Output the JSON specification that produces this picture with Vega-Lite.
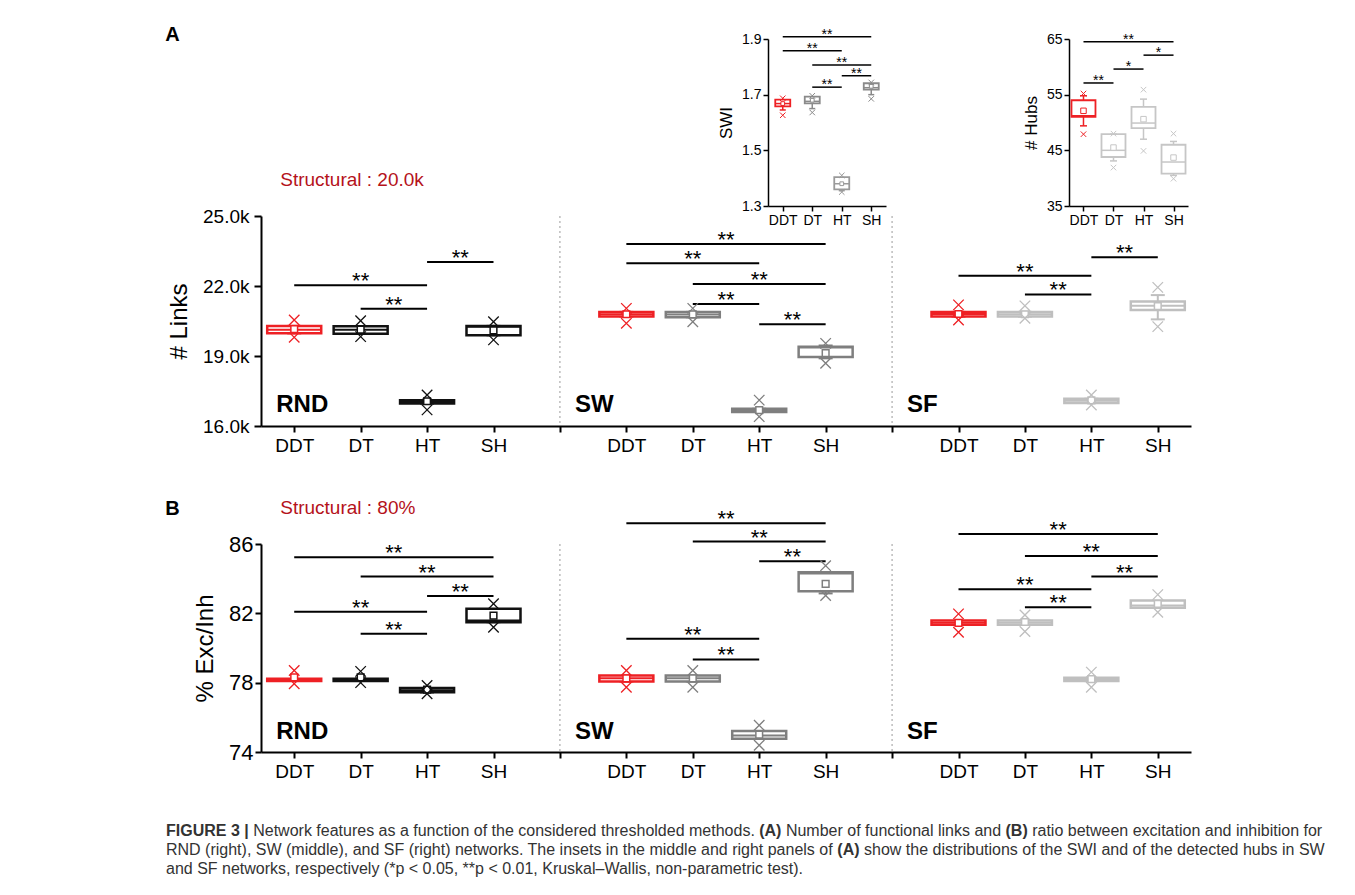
{
"$schema": "https://vega.github.io/schema/vega-lite/v6.json",
"padding": {"left": 165, "top": 25, "right": 0, "bottom": 0},
"background": "#ffffff",
"columns": 4,
"align": "each",
"bounds": "flush",
"spacing": {"row": 10, "column": 0},
"resolve": {"scale": {"color": "independent", "stroke": "independent"}},
"config": {
  "view": {"stroke": null},
  "font": "Liberation Sans",
  "axis": {"domainColor": "#000000", "domainWidth": 2, "tickColor": "#000000", "tickWidth": 2, "labelColor": "#000000", "labelFont": "Liberation Sans", "titleFont": "Liberation Sans", "titleFontWeight": "normal", "titleColor": "#000000", "grid": false}
},
"datasets": {
  "seps": [{"key": "s1"}, {"key": "s2"}],
  "boxA": [
    {"key": "RND-DDT", "q1": 19970, "q3": 20290, "med": 20130, "mean": 20150, "lo": 19970, "hi": 20290, "mn": 19800, "mx": 20540},
    {"key": "RND-DT", "q1": 19950, "q3": 20280, "med": 20130, "mean": 20130, "lo": 19950, "hi": 20280, "mn": 19830, "mx": 20510},
    {"key": "RND-HT", "q1": 16960, "q3": 17100, "med": 17030, "mean": 17060, "lo": 16960, "hi": 17100, "mn": 16690, "mx": 17330},
    {"key": "RND-SH", "q1": 19890, "q3": 20290, "med": 20250, "mean": 20100, "lo": 19890, "hi": 20290, "mn": 19690, "mx": 20470},
    {"key": "SW-DDT", "q1": 20690, "q3": 20890, "med": 20790, "mean": 20790, "lo": 20690, "hi": 20890, "mn": 20400, "mx": 21040},
    {"key": "SW-DT", "q1": 20660, "q3": 20890, "med": 20780, "mean": 20780, "lo": 20660, "hi": 20890, "mn": 20470, "mx": 21040},
    {"key": "SW-HT", "q1": 16600, "q3": 16740, "med": 16660, "mean": 16680, "lo": 16600, "hi": 16740, "mn": 16400, "mx": 17110},
    {"key": "SW-SH", "q1": 18960, "q3": 19400, "med": 19360, "mean": 19120, "lo": 18900, "hi": 19450, "mn": 18690, "mx": 19540},
    {"key": "SF-DDT", "q1": 20690, "q3": 20890, "med": 20800, "mean": 20800, "lo": 20690, "hi": 20890, "mn": 20540, "mx": 21190},
    {"key": "SF-DT", "q1": 20690, "q3": 20890, "med": 20790, "mean": 20790, "lo": 20690, "hi": 20890, "mn": 20620, "mx": 21150},
    {"key": "SF-HT", "q1": 16990, "q3": 17170, "med": 17080, "mean": 17100, "lo": 16990, "hi": 17170, "mn": 16900, "mx": 17330},
    {"key": "SF-SH", "q1": 20970, "q3": 21340, "med": 21150, "mean": 21140, "lo": 20570, "hi": 21610, "mn": 20260, "mx": 21940}
  ],
  "sigA": [
    {"from": "RND-DDT", "to": "RND-HT", "mid": "RND-DT", "y": 22030, "label": "**"},
    {"from": "RND-DT", "to": "RND-HT", "mid": "RND-m2", "y": 21030, "label": "**"},
    {"from": "RND-HT", "to": "RND-SH", "mid": "RND-m3", "y": 23030, "label": "**"},
    {"from": "SW-DDT", "to": "SW-SH", "mid": "SW-m2", "y": 23800, "label": "**"},
    {"from": "SW-DDT", "to": "SW-HT", "mid": "SW-DT", "y": 22970, "label": "**"},
    {"from": "SW-DT", "to": "SW-SH", "mid": "SW-HT", "y": 22090, "label": "**"},
    {"from": "SW-DT", "to": "SW-HT", "mid": "SW-m2", "y": 21230, "label": "**"},
    {"from": "SW-HT", "to": "SW-SH", "mid": "SW-m3", "y": 20360, "label": "**"},
    {"from": "SF-HT", "to": "SF-SH", "mid": "SF-m3", "y": 23230, "label": "**"},
    {"from": "SF-DDT", "to": "SF-HT", "mid": "SF-DT", "y": 22440, "label": "**"},
    {"from": "SF-DT", "to": "SF-HT", "mid": "SF-m2", "y": 21640, "label": "**"}
  ],
  "boxB": [
    {"key": "RND-DDT", "q1": 78.10, "q3": 78.22, "med": 78.16, "mean": 78.30, "lo": 78.10, "hi": 78.22, "mn": 77.94, "mx": 78.70},
    {"key": "RND-DT", "q1": 78.10, "q3": 78.22, "med": 78.16, "mean": 78.30, "lo": 78.10, "hi": 78.22, "mn": 78.00, "mx": 78.65},
    {"key": "RND-HT", "q1": 77.44, "q3": 77.69, "med": 77.56, "mean": 77.60, "lo": 77.44, "hi": 77.69, "mn": 77.36, "mx": 77.84},
    {"key": "RND-SH", "q1": 81.49, "q3": 82.26, "med": 81.58, "mean": 81.87, "lo": 81.49, "hi": 82.26, "mn": 81.20, "mx": 82.55},
    {"key": "SW-DDT", "q1": 78.07, "q3": 78.42, "med": 78.25, "mean": 78.25, "lo": 78.07, "hi": 78.42, "mn": 77.74, "mx": 78.70},
    {"key": "SW-DT", "q1": 78.07, "q3": 78.42, "med": 78.25, "mean": 78.25, "lo": 78.07, "hi": 78.42, "mn": 77.74, "mx": 78.70},
    {"key": "SW-HT", "q1": 74.77, "q3": 75.21, "med": 74.95, "mean": 75.00, "lo": 74.77, "hi": 75.21, "mn": 74.39, "mx": 75.54},
    {"key": "SW-SH", "q1": 83.27, "q3": 84.37, "med": 84.30, "mean": 83.70, "lo": 83.15, "hi": 84.37, "mn": 83.03, "mx": 84.75},
    {"key": "SF-DDT", "q1": 81.34, "q3": 81.59, "med": 81.45, "mean": 81.45, "lo": 81.34, "hi": 81.59, "mn": 80.91, "mx": 81.97},
    {"key": "SF-DT", "q1": 81.34, "q3": 81.59, "med": 81.45, "mean": 81.50, "lo": 81.34, "hi": 81.59, "mn": 80.95, "mx": 81.90},
    {"key": "SF-HT", "q1": 78.09, "q3": 78.29, "med": 78.20, "mean": 78.20, "lo": 78.09, "hi": 78.29, "mn": 77.74, "mx": 78.61},
    {"key": "SF-SH", "q1": 82.32, "q3": 82.74, "med": 82.45, "mean": 82.55, "lo": 82.32, "hi": 82.74, "mn": 82.06, "mx": 83.08}
  ],
  "sigB": [
    {"from": "RND-DDT", "to": "RND-SH", "mid": "RND-m2", "y": 85.23, "label": "**"},
    {"from": "RND-DT", "to": "RND-SH", "mid": "RND-HT", "y": 84.12, "label": "**"},
    {"from": "RND-HT", "to": "RND-SH", "mid": "RND-m3", "y": 83.00, "label": "**"},
    {"from": "RND-DDT", "to": "RND-HT", "mid": "RND-DT", "y": 82.09, "label": "**"},
    {"from": "RND-DT", "to": "RND-HT", "mid": "RND-m2", "y": 80.82, "label": "**"},
    {"from": "SW-DDT", "to": "SW-SH", "mid": "SW-m2", "y": 87.19, "label": "**"},
    {"from": "SW-DT", "to": "SW-SH", "mid": "SW-HT", "y": 86.14, "label": "**"},
    {"from": "SW-HT", "to": "SW-SH", "mid": "SW-m3", "y": 85.00, "label": "**"},
    {"from": "SW-DDT", "to": "SW-HT", "mid": "SW-DT", "y": 80.53, "label": "**"},
    {"from": "SW-DT", "to": "SW-HT", "mid": "SW-m2", "y": 79.34, "label": "**"},
    {"from": "SF-DDT", "to": "SF-SH", "mid": "SF-m2", "y": 86.58, "label": "**"},
    {"from": "SF-DT", "to": "SF-SH", "mid": "SF-HT", "y": 85.31, "label": "**"},
    {"from": "SF-HT", "to": "SF-SH", "mid": "SF-m3", "y": 84.12, "label": "**"},
    {"from": "SF-DDT", "to": "SF-HT", "mid": "SF-DT", "y": 83.39, "label": "**"},
    {"from": "SF-DT", "to": "SF-HT", "mid": "SF-m2", "y": 82.35, "label": "**"}
  ],
  "boxSWI": [
    {"key": "DDT", "q1": 1.658, "q3": 1.682, "med": 1.668, "mean": 1.668, "lo": 1.645, "hi": 1.685, "mn": 1.626, "mx": 1.687},
    {"key": "DT", "q1": 1.669, "q3": 1.693, "med": 1.676, "mean": 1.680, "lo": 1.650, "hi": 1.696, "mn": 1.636, "mx": 1.696},
    {"key": "HT", "q1": 1.360, "q3": 1.404, "med": 1.380, "mean": 1.380, "lo": 1.355, "hi": 1.404, "mn": 1.350, "mx": 1.410},
    {"key": "SH", "q1": 1.718, "q3": 1.741, "med": 1.725, "mean": 1.730, "lo": 1.700, "hi": 1.741, "mn": 1.685, "mx": 1.744}
  ],
  "sigSWI": [
    {"from": "DDT", "to": "SH", "mid": "m2", "y": 1.908, "label": "**"},
    {"from": "DDT", "to": "HT", "mid": "DT", "y": 1.858, "label": "**"},
    {"from": "DT", "to": "SH", "mid": "HT", "y": 1.807, "label": "**"},
    {"from": "HT", "to": "SH", "mid": "m3", "y": 1.768, "label": "**"},
    {"from": "DT", "to": "HT", "mid": "m2", "y": 1.727, "label": "**"}
  ],
  "boxHub": [
    {"key": "DDT", "q1": 51.0, "q3": 54.0, "med": 51.2, "mean": 52.1, "lo": 49.4, "hi": 54.8, "mn": 47.9, "mx": 55.2},
    {"key": "DT", "q1": 43.8, "q3": 47.9, "med": 45.0, "mean": 45.5, "lo": 43.1, "hi": 47.9, "mn": 41.9, "mx": 48.0},
    {"key": "HT", "q1": 49.0, "q3": 52.8, "med": 49.9, "mean": 50.6, "lo": 47.0, "hi": 54.2, "mn": 44.9, "mx": 55.9},
    {"key": "SH", "q1": 40.8, "q3": 46.0, "med": 42.9, "mean": 43.7, "lo": 40.5, "hi": 46.6, "mn": 39.9, "mx": 48.0}
  ],
  "sigHub": [
    {"from": "DDT", "to": "SH", "mid": "m2", "y": 64.5, "label": "**"},
    {"from": "HT", "to": "SH", "mid": "m3", "y": 62.1, "label": "*"},
    {"from": "DT", "to": "HT", "mid": "m2", "y": 59.6, "label": "*"},
    {"from": "DDT", "to": "DT", "mid": "m1", "y": 57.1, "label": "**"}
  ],
  "caption": [
    {"id": "L1S1", "line": 1, "text": "FIGURE 3 |"},
    {"id": "L1S2", "line": 1, "text": "Network features as a function of the considered thresholded methods."},
    {"id": "L1S3", "line": 1, "text": "(A)"},
    {"id": "L1S4", "line": 1, "text": "Number of functional links and"},
    {"id": "L1S5", "line": 1, "text": "(B)"},
    {"id": "L1S6", "line": 1, "text": "ratio between excitation and inhibition for"},
    {"id": "L2S1", "line": 2, "text": "RND (right), SW (middle), and SF (right) networks. The insets in the middle and right panels of"},
    {"id": "L2S2", "line": 2, "text": "(A)"},
    {"id": "L2S3", "line": 2, "text": "show the distributions of the SWI and of the detected hubs in SW"},
    {"id": "L3S1", "line": 3, "text": "and SF networks, respectively (*p < 0.05, **p < 0.01, Kruskal–Wallis, non-parametric test)."}
  ]
},
"concat": [
  {"width": 507, "height": 167, "data": {"values": [{}]}, "mark": {"type": "text", "text": ""}},
  {
    "width": 118, "height": 167,
    "layer": [
      {"data": {"name": "sigSWI"}, "mark": {"type": "rule", "color": "#000000", "strokeWidth": 1.5},
       "encoding": {
         "x": {"field": "from", "type": "nominal", "title": null, "scale": {"type": "point", "domain": ["DDT","m1","DT","m2","HT","m3","SH"], "padding": 1.245}, "axis": {"values": ["DDT","DT","HT","SH"], "labelAngle": 0, "labelFontSize": 14, "tickSize": 5, "tickWidth": 1.5, "domainWidth": 1.5, "labelPadding": 2}},
         "x2": {"field": "to"},
         "y": {"field": "y", "type": "quantitative", "title": "SWI", "scale": {"domain": [1.3, 1.9], "nice": false, "zero": false}, "axis": {"values": [1.3, 1.5, 1.7, 1.9], "format": ".1f", "labelFontSize": 14, "tickSize": 5, "tickWidth": 1.5, "domainWidth": 1.5, "labelPadding": 2, "titleFontSize": 17, "titlePadding": 6}}}},
      {"data": {"name": "sigSWI"}, "mark": {"type": "text", "fontSize": 14, "baseline": "alphabetic", "dy": 2, "color": "#000000"},
       "encoding": {
         "x": {"field": "mid", "type": "nominal", "title": null, "scale": {"type": "point", "domain": ["DDT","m1","DT","m2","HT","m3","SH"], "padding": 1.245}},
         "y": {"field": "y", "type": "quantitative", "title": "SWI", "scale": {"domain": [1.3, 1.9], "nice": false, "zero": false}},
         "text": {"field": "label"}}},
      {"data": {"name": "boxSWI"}, "mark": {"type": "rule", "strokeWidth": 1.5},
       "encoding": {
         "x": {"field": "key", "type": "nominal", "title": null, "scale": {"type": "point", "domain": ["DDT","m1","DT","m2","HT","m3","SH"], "padding": 1.245}},
         "y": {"field": "lo", "type": "quantitative", "title": "SWI", "scale": {"domain": [1.3, 1.9], "nice": false, "zero": false}},
         "y2": {"field": "hi"},
         "color": {"field": "key", "type": "nominal", "scale": {"domain": ["DDT","DT","HT","SH"], "range": ["#ee2024","#8a8a8a","#9a9a9a","#8a8a8a"]}, "legend": null}}},
      {"data": {"name": "boxSWI"}, "mark": {"type": "tick", "size": 6, "thickness": 1.5, "opacity": 1},
       "encoding": {
         "x": {"field": "key", "type": "nominal", "title": null, "scale": {"type": "point", "domain": ["DDT","m1","DT","m2","HT","m3","SH"], "padding": 1.245}},
         "y": {"field": "lo", "type": "quantitative", "title": "SWI", "scale": {"domain": [1.3, 1.9], "nice": false, "zero": false}},
         "color": {"field": "key", "type": "nominal", "scale": {"domain": ["DDT","DT","HT","SH"], "range": ["#ee2024","#8a8a8a","#9a9a9a","#8a8a8a"]}, "legend": null}}},
      {"data": {"name": "boxSWI"}, "mark": {"type": "bar", "size": 15, "fill": "#ffffff", "strokeWidth": 1.8},
       "encoding": {
         "x": {"field": "key", "type": "nominal", "title": null, "scale": {"type": "point", "domain": ["DDT","m1","DT","m2","HT","m3","SH"], "padding": 1.245}},
         "y": {"field": "q1", "type": "quantitative", "title": "SWI", "scale": {"domain": [1.3, 1.9], "nice": false, "zero": false}},
         "y2": {"field": "q3"},
         "stroke": {"field": "key", "type": "nominal", "scale": {"domain": ["DDT","DT","HT","SH"], "range": ["#ee2024","#8a8a8a","#9a9a9a","#8a8a8a"]}, "legend": null}}},
      {"data": {"name": "boxSWI"}, "mark": {"type": "tick", "size": 15, "thickness": 1.5, "opacity": 1},
       "encoding": {
         "x": {"field": "key", "type": "nominal", "title": null, "scale": {"type": "point", "domain": ["DDT","m1","DT","m2","HT","m3","SH"], "padding": 1.245}},
         "y": {"field": "med", "type": "quantitative", "title": "SWI", "scale": {"domain": [1.3, 1.9], "nice": false, "zero": false}},
         "color": {"field": "key", "type": "nominal", "scale": {"domain": ["DDT","DT","HT","SH"], "range": ["#ee2024","#8a8a8a","#9a9a9a","#8a8a8a"]}, "legend": null}}},
      {"data": {"name": "boxSWI"}, "mark": {"type": "point", "shape": "square", "filled": true, "fill": "#ffffff", "size": 14, "strokeWidth": 1, "opacity": 1},
       "encoding": {
         "x": {"field": "key", "type": "nominal", "title": null, "scale": {"type": "point", "domain": ["DDT","m1","DT","m2","HT","m3","SH"], "padding": 1.245}},
         "y": {"field": "mean", "type": "quantitative", "title": "SWI", "scale": {"domain": [1.3, 1.9], "nice": false, "zero": false}},
         "stroke": {"field": "key", "type": "nominal", "scale": {"domain": ["DDT","DT","HT","SH"], "range": ["#ee2024","#8a8a8a","#9a9a9a","#8a8a8a"]}, "legend": null}}},
      {"data": {"name": "boxSWI"}, "mark": {"type": "point", "shape": "M-1,-1L1,1M-1,1L1,-1", "filled": false, "size": 30, "strokeWidth": 1, "opacity": 1},
       "encoding": {
         "x": {"field": "key", "type": "nominal", "title": null, "scale": {"type": "point", "domain": ["DDT","m1","DT","m2","HT","m3","SH"], "padding": 1.245}},
         "y": {"field": "mn", "type": "quantitative", "title": "SWI", "scale": {"domain": [1.3, 1.9], "nice": false, "zero": false}},
         "stroke": {"field": "key", "type": "nominal", "scale": {"domain": ["DDT","DT","HT","SH"], "range": ["#ee2024","#8a8a8a","#9a9a9a","#8a8a8a"]}, "legend": null}}},
      {"data": {"name": "boxSWI"}, "mark": {"type": "point", "shape": "M-1,-1L1,1M-1,1L1,-1", "filled": false, "size": 30, "strokeWidth": 1, "opacity": 1},
       "encoding": {
         "x": {"field": "key", "type": "nominal", "title": null, "scale": {"type": "point", "domain": ["DDT","m1","DT","m2","HT","m3","SH"], "padding": 1.245}},
         "y": {"field": "mx", "type": "quantitative", "title": "SWI", "scale": {"domain": [1.3, 1.9], "nice": false, "zero": false}},
         "stroke": {"field": "key", "type": "nominal", "scale": {"domain": ["DDT","DT","HT","SH"], "range": ["#ee2024","#8a8a8a","#9a9a9a","#8a8a8a"]}, "legend": null}}}
    ]
  },
  {"width": 183, "height": 167, "data": {"values": [{}]}, "mark": {"type": "text", "text": ""}},
  {
    "width": 119, "height": 167,
    "layer": [
      {"data": {"name": "sigHub"}, "mark": {"type": "rule", "color": "#000000", "strokeWidth": 1.5},
       "encoding": {
         "x": {"field": "from", "type": "nominal", "title": null, "scale": {"type": "point", "domain": ["DDT","m1","DT","m2","HT","m3","SH"], "padding": 0.965}, "axis": {"values": ["DDT","DT","HT","SH"], "labelAngle": 0, "labelFontSize": 14, "tickSize": 5, "tickWidth": 1.5, "domainWidth": 1.5, "labelPadding": 2}},
         "x2": {"field": "to"},
         "y": {"field": "y", "type": "quantitative", "title": "# Hubs", "scale": {"domain": [35, 65], "nice": false, "zero": false}, "axis": {"values": [35, 45, 55, 65], "format": "d", "labelFontSize": 14, "tickSize": 5, "tickWidth": 1.5, "domainWidth": 1.5, "labelPadding": 2, "titleFontSize": 17, "titlePadding": 6}}}},
      {"data": {"name": "sigHub"}, "mark": {"type": "text", "fontSize": 14, "baseline": "alphabetic", "dy": 2, "color": "#000000"},
       "encoding": {
         "x": {"field": "mid", "type": "nominal", "title": null, "scale": {"type": "point", "domain": ["DDT","m1","DT","m2","HT","m3","SH"], "padding": 0.965}},
         "y": {"field": "y", "type": "quantitative", "title": "# Hubs", "scale": {"domain": [35, 65], "nice": false, "zero": false}},
         "text": {"field": "label"}}},
      {"data": {"name": "boxHub"}, "mark": {"type": "rule", "strokeWidth": 1.5},
       "encoding": {
         "x": {"field": "key", "type": "nominal", "title": null, "scale": {"type": "point", "domain": ["DDT","m1","DT","m2","HT","m3","SH"], "padding": 0.965}},
         "y": {"field": "lo", "type": "quantitative", "title": "# Hubs", "scale": {"domain": [35, 65], "nice": false, "zero": false}},
         "y2": {"field": "hi"},
         "color": {"field": "key", "type": "nominal", "scale": {"domain": ["DDT","DT","HT","SH"], "range": ["#ee2024","#c6c6c6","#c6c6c6","#c6c6c6"]}, "legend": null}}},
      {"data": {"name": "boxHub"}, "mark": {"type": "tick", "size": 7, "thickness": 1.5, "opacity": 1},
       "encoding": {
         "x": {"field": "key", "type": "nominal", "title": null, "scale": {"type": "point", "domain": ["DDT","m1","DT","m2","HT","m3","SH"], "padding": 0.965}},
         "y": {"field": "lo", "type": "quantitative", "title": "# Hubs", "scale": {"domain": [35, 65], "nice": false, "zero": false}},
         "color": {"field": "key", "type": "nominal", "scale": {"domain": ["DDT","DT","HT","SH"], "range": ["#ee2024","#c6c6c6","#c6c6c6","#c6c6c6"]}, "legend": null}}},
      {"data": {"name": "boxHub"}, "mark": {"type": "tick", "size": 7, "thickness": 1.5, "opacity": 1},
       "encoding": {
         "x": {"field": "key", "type": "nominal", "title": null, "scale": {"type": "point", "domain": ["DDT","m1","DT","m2","HT","m3","SH"], "padding": 0.965}},
         "y": {"field": "hi", "type": "quantitative", "title": "# Hubs", "scale": {"domain": [35, 65], "nice": false, "zero": false}},
         "color": {"field": "key", "type": "nominal", "scale": {"domain": ["DDT","DT","HT","SH"], "range": ["#ee2024","#c6c6c6","#c6c6c6","#c6c6c6"]}, "legend": null}}},
      {"data": {"name": "boxHub"}, "mark": {"type": "bar", "size": 24, "fill": "#ffffff", "strokeWidth": 1.8},
       "encoding": {
         "x": {"field": "key", "type": "nominal", "title": null, "scale": {"type": "point", "domain": ["DDT","m1","DT","m2","HT","m3","SH"], "padding": 0.965}},
         "y": {"field": "q1", "type": "quantitative", "title": "# Hubs", "scale": {"domain": [35, 65], "nice": false, "zero": false}},
         "y2": {"field": "q3"},
         "stroke": {"field": "key", "type": "nominal", "scale": {"domain": ["DDT","DT","HT","SH"], "range": ["#ee2024","#c6c6c6","#c6c6c6","#c6c6c6"]}, "legend": null}}},
      {"data": {"name": "boxHub"}, "mark": {"type": "tick", "size": 24, "thickness": 1.5, "opacity": 1},
       "encoding": {
         "x": {"field": "key", "type": "nominal", "title": null, "scale": {"type": "point", "domain": ["DDT","m1","DT","m2","HT","m3","SH"], "padding": 0.965}},
         "y": {"field": "med", "type": "quantitative", "title": "# Hubs", "scale": {"domain": [35, 65], "nice": false, "zero": false}},
         "color": {"field": "key", "type": "nominal", "scale": {"domain": ["DDT","DT","HT","SH"], "range": ["#ee2024","#c6c6c6","#c6c6c6","#c6c6c6"]}, "legend": null}}},
      {"data": {"name": "boxHub"}, "mark": {"type": "point", "shape": "square", "filled": true, "fill": "#ffffff", "size": 30, "strokeWidth": 1, "opacity": 1},
       "encoding": {
         "x": {"field": "key", "type": "nominal", "title": null, "scale": {"type": "point", "domain": ["DDT","m1","DT","m2","HT","m3","SH"], "padding": 0.965}},
         "y": {"field": "mean", "type": "quantitative", "title": "# Hubs", "scale": {"domain": [35, 65], "nice": false, "zero": false}},
         "stroke": {"field": "key", "type": "nominal", "scale": {"domain": ["DDT","DT","HT","SH"], "range": ["#ee2024","#c6c6c6","#c6c6c6","#c6c6c6"]}, "legend": null}}},
      {"data": {"name": "boxHub"}, "mark": {"type": "point", "shape": "M-1,-1L1,1M-1,1L1,-1", "filled": false, "size": 30, "strokeWidth": 1, "opacity": 1},
       "encoding": {
         "x": {"field": "key", "type": "nominal", "title": null, "scale": {"type": "point", "domain": ["DDT","m1","DT","m2","HT","m3","SH"], "padding": 0.965}},
         "y": {"field": "mn", "type": "quantitative", "title": "# Hubs", "scale": {"domain": [35, 65], "nice": false, "zero": false}},
         "stroke": {"field": "key", "type": "nominal", "scale": {"domain": ["DDT","DT","HT","SH"], "range": ["#ee2024","#c6c6c6","#c6c6c6","#c6c6c6"]}, "legend": null}}},
      {"data": {"name": "boxHub"}, "mark": {"type": "point", "shape": "M-1,-1L1,1M-1,1L1,-1", "filled": false, "size": 30, "strokeWidth": 1, "opacity": 1},
       "encoding": {
         "x": {"field": "key", "type": "nominal", "title": null, "scale": {"type": "point", "domain": ["DDT","m1","DT","m2","HT","m3","SH"], "padding": 0.965}},
         "y": {"field": "mx", "type": "quantitative", "title": "# Hubs", "scale": {"domain": [35, 65], "nice": false, "zero": false}},
         "stroke": {"field": "key", "type": "nominal", "scale": {"domain": ["DDT","DT","HT","SH"], "range": ["#ee2024","#c6c6c6","#c6c6c6","#c6c6c6"]}, "legend": null}}}
    ]
  },
  {
    "width": 507, "height": 210,
    "layer": [
      {"data": {"name": "seps"}, "mark": {"type": "rule", "color": "#9a9a9a", "strokeWidth": 1, "strokeDash": [2, 3]},
       "encoding": {"x": {"field": "key", "type": "nominal", "title": null, "scale": {"type": "point", "domain": ["RND-DDT","RND-m1","RND-DT","RND-m2","RND-HT","RND-m3","RND-SH","g1","s1","g2","SW-DDT","SW-m1","SW-DT","SW-m2","SW-HT","SW-m3","SW-SH","g3","s2","g4","SF-DDT","SF-m1","SF-DT","SF-m2","SF-HT","SF-m3","SF-SH"], "padding": 1.09, "range": [0, 930]},
         "axis": {"values": ["RND-DDT","RND-DT","RND-HT","RND-SH","s1","SW-DDT","SW-DT","SW-HT","SW-SH","s2","SF-DDT","SF-DT","SF-HT","SF-SH"], "labelExpr": "indexof(datum.value, '-') > 0 ? slice(datum.value, indexof(datum.value, '-') + 1) : ''", "labelAngle": 0, "labelFontSize": 19, "tickSize": 6, "labelPadding": 4}}}},
      {"data": {"name": "sigA"}, "mark": {"type": "rule", "color": "#000000", "strokeWidth": 2},
       "encoding": {
         "x": {"field": "from", "type": "nominal", "title": null, "scale": {"type": "point", "domain": ["RND-DDT","RND-m1","RND-DT","RND-m2","RND-HT","RND-m3","RND-SH","g1","s1","g2","SW-DDT","SW-m1","SW-DT","SW-m2","SW-HT","SW-m3","SW-SH","g3","s2","g4","SF-DDT","SF-m1","SF-DT","SF-m2","SF-HT","SF-m3","SF-SH"], "padding": 1.09, "range": [0, 930]}},
         "x2": {"field": "to"},
         "y": {"field": "y", "type": "quantitative", "title": "# Links", "scale": {"domain": [16000, 25000], "nice": false, "zero": false},
           "axis": {"values": [16000, 19000, 22000, 25000], "labelExpr": "format(datum.value / 1000, '.1f') + 'k'", "labelFontSize": 19, "tickSize": 7, "labelPadding": 5, "titleFontSize": 24, "titlePadding": 11}}}},
      {"data": {"name": "sigA"}, "mark": {"type": "text", "fontSize": 22, "baseline": "alphabetic", "dy": 3, "color": "#000000"},
       "encoding": {
         "x": {"field": "mid", "type": "nominal", "title": null, "scale": {"type": "point", "domain": ["RND-DDT","RND-m1","RND-DT","RND-m2","RND-HT","RND-m3","RND-SH","g1","s1","g2","SW-DDT","SW-m1","SW-DT","SW-m2","SW-HT","SW-m3","SW-SH","g3","s2","g4","SF-DDT","SF-m1","SF-DT","SF-m2","SF-HT","SF-m3","SF-SH"], "padding": 1.09, "range": [0, 930]}},
         "y": {"field": "y", "type": "quantitative", "title": "# Links", "scale": {"domain": [16000, 25000], "nice": false, "zero": false}},
         "text": {"field": "label"}}},
      {"data": {"name": "boxA"}, "mark": {"type": "rule", "strokeWidth": 2},
       "encoding": {
         "x": {"field": "key", "type": "nominal", "title": null, "scale": {"type": "point", "domain": ["RND-DDT","RND-m1","RND-DT","RND-m2","RND-HT","RND-m3","RND-SH","g1","s1","g2","SW-DDT","SW-m1","SW-DT","SW-m2","SW-HT","SW-m3","SW-SH","g3","s2","g4","SF-DDT","SF-m1","SF-DT","SF-m2","SF-HT","SF-m3","SF-SH"], "padding": 1.09, "range": [0, 930]}},
         "y": {"field": "lo", "type": "quantitative", "title": "# Links", "scale": {"domain": [16000, 25000], "nice": false, "zero": false}},
         "y2": {"field": "hi"},
         "color": {"field": "key", "type": "nominal", "scale": {"domain": ["RND-DDT","RND-DT","RND-HT","RND-SH","SW-DDT","SW-DT","SW-HT","SW-SH","SF-DDT","SF-DT","SF-HT","SF-SH"], "range": ["#ee2024","#111111","#111111","#111111","#ee2024","#7f7f7f","#7f7f7f","#7f7f7f","#ee2024","#bfbfbf","#bfbfbf","#bfbfbf"]}, "legend": null}}},
      {"data": {"name": "boxA"}, "mark": {"type": "tick", "size": 14, "thickness": 2, "opacity": 1},
       "encoding": {
         "x": {"field": "key", "type": "nominal", "title": null, "scale": {"type": "point", "domain": ["RND-DDT","RND-m1","RND-DT","RND-m2","RND-HT","RND-m3","RND-SH","g1","s1","g2","SW-DDT","SW-m1","SW-DT","SW-m2","SW-HT","SW-m3","SW-SH","g3","s2","g4","SF-DDT","SF-m1","SF-DT","SF-m2","SF-HT","SF-m3","SF-SH"], "padding": 1.09, "range": [0, 930]}},
         "y": {"field": "lo", "type": "quantitative", "title": "# Links", "scale": {"domain": [16000, 25000], "nice": false, "zero": false}},
         "color": {"field": "key", "type": "nominal", "scale": {"domain": ["RND-DDT","RND-DT","RND-HT","RND-SH","SW-DDT","SW-DT","SW-HT","SW-SH","SF-DDT","SF-DT","SF-HT","SF-SH"], "range": ["#ee2024","#111111","#111111","#111111","#ee2024","#7f7f7f","#7f7f7f","#7f7f7f","#ee2024","#bfbfbf","#bfbfbf","#bfbfbf"]}, "legend": null}}},
      {"data": {"name": "boxA"}, "mark": {"type": "tick", "size": 14, "thickness": 2, "opacity": 1},
       "encoding": {
         "x": {"field": "key", "type": "nominal", "title": null, "scale": {"type": "point", "domain": ["RND-DDT","RND-m1","RND-DT","RND-m2","RND-HT","RND-m3","RND-SH","g1","s1","g2","SW-DDT","SW-m1","SW-DT","SW-m2","SW-HT","SW-m3","SW-SH","g3","s2","g4","SF-DDT","SF-m1","SF-DT","SF-m2","SF-HT","SF-m3","SF-SH"], "padding": 1.09, "range": [0, 930]}},
         "y": {"field": "hi", "type": "quantitative", "title": "# Links", "scale": {"domain": [16000, 25000], "nice": false, "zero": false}},
         "color": {"field": "key", "type": "nominal", "scale": {"domain": ["RND-DDT","RND-DT","RND-HT","RND-SH","SW-DDT","SW-DT","SW-HT","SW-SH","SF-DDT","SF-DT","SF-HT","SF-SH"], "range": ["#ee2024","#111111","#111111","#111111","#ee2024","#7f7f7f","#7f7f7f","#7f7f7f","#ee2024","#bfbfbf","#bfbfbf","#bfbfbf"]}, "legend": null}}},
      {"data": {"name": "boxA"}, "mark": {"type": "bar", "size": 54, "fill": "#ffffff", "strokeWidth": 2.5},
       "encoding": {
         "x": {"field": "key", "type": "nominal", "title": null, "scale": {"type": "point", "domain": ["RND-DDT","RND-m1","RND-DT","RND-m2","RND-HT","RND-m3","RND-SH","g1","s1","g2","SW-DDT","SW-m1","SW-DT","SW-m2","SW-HT","SW-m3","SW-SH","g3","s2","g4","SF-DDT","SF-m1","SF-DT","SF-m2","SF-HT","SF-m3","SF-SH"], "padding": 1.09, "range": [0, 930]}},
         "y": {"field": "q1", "type": "quantitative", "title": "# Links", "scale": {"domain": [16000, 25000], "nice": false, "zero": false}},
         "y2": {"field": "q3"},
         "stroke": {"field": "key", "type": "nominal", "scale": {"domain": ["RND-DDT","RND-DT","RND-HT","RND-SH","SW-DDT","SW-DT","SW-HT","SW-SH","SF-DDT","SF-DT","SF-HT","SF-SH"], "range": ["#ee2024","#111111","#111111","#111111","#ee2024","#7f7f7f","#7f7f7f","#7f7f7f","#ee2024","#bfbfbf","#bfbfbf","#bfbfbf"]}, "legend": null}}},
      {"data": {"name": "boxA"}, "mark": {"type": "tick", "size": 54, "thickness": 2, "opacity": 1},
       "encoding": {
         "x": {"field": "key", "type": "nominal", "title": null, "scale": {"type": "point", "domain": ["RND-DDT","RND-m1","RND-DT","RND-m2","RND-HT","RND-m3","RND-SH","g1","s1","g2","SW-DDT","SW-m1","SW-DT","SW-m2","SW-HT","SW-m3","SW-SH","g3","s2","g4","SF-DDT","SF-m1","SF-DT","SF-m2","SF-HT","SF-m3","SF-SH"], "padding": 1.09, "range": [0, 930]}},
         "y": {"field": "med", "type": "quantitative", "title": "# Links", "scale": {"domain": [16000, 25000], "nice": false, "zero": false}},
         "color": {"field": "key", "type": "nominal", "scale": {"domain": ["RND-DDT","RND-DT","RND-HT","RND-SH","SW-DDT","SW-DT","SW-HT","SW-SH","SF-DDT","SF-DT","SF-HT","SF-SH"], "range": ["#ee2024","#111111","#111111","#111111","#ee2024","#7f7f7f","#7f7f7f","#7f7f7f","#ee2024","#bfbfbf","#bfbfbf","#bfbfbf"]}, "legend": null}}},
      {"data": {"name": "boxA"}, "mark": {"type": "point", "shape": "square", "filled": true, "fill": "#ffffff", "size": 45, "strokeWidth": 1.5, "opacity": 1},
       "encoding": {
         "x": {"field": "key", "type": "nominal", "title": null, "scale": {"type": "point", "domain": ["RND-DDT","RND-m1","RND-DT","RND-m2","RND-HT","RND-m3","RND-SH","g1","s1","g2","SW-DDT","SW-m1","SW-DT","SW-m2","SW-HT","SW-m3","SW-SH","g3","s2","g4","SF-DDT","SF-m1","SF-DT","SF-m2","SF-HT","SF-m3","SF-SH"], "padding": 1.09, "range": [0, 930]}},
         "y": {"field": "mean", "type": "quantitative", "title": "# Links", "scale": {"domain": [16000, 25000], "nice": false, "zero": false}},
         "stroke": {"field": "key", "type": "nominal", "scale": {"domain": ["RND-DDT","RND-DT","RND-HT","RND-SH","SW-DDT","SW-DT","SW-HT","SW-SH","SF-DDT","SF-DT","SF-HT","SF-SH"], "range": ["#ee2024","#111111","#111111","#111111","#ee2024","#7f7f7f","#7f7f7f","#7f7f7f","#ee2024","#bfbfbf","#bfbfbf","#bfbfbf"]}, "legend": null}}},
      {"data": {"name": "boxA"}, "mark": {"type": "point", "shape": "M-1,-1L1,1M-1,1L1,-1", "filled": false, "size": 110, "strokeWidth": 1.3, "opacity": 1},
       "encoding": {
         "x": {"field": "key", "type": "nominal", "title": null, "scale": {"type": "point", "domain": ["RND-DDT","RND-m1","RND-DT","RND-m2","RND-HT","RND-m3","RND-SH","g1","s1","g2","SW-DDT","SW-m1","SW-DT","SW-m2","SW-HT","SW-m3","SW-SH","g3","s2","g4","SF-DDT","SF-m1","SF-DT","SF-m2","SF-HT","SF-m3","SF-SH"], "padding": 1.09, "range": [0, 930]}},
         "y": {"field": "mn", "type": "quantitative", "title": "# Links", "scale": {"domain": [16000, 25000], "nice": false, "zero": false}},
         "stroke": {"field": "key", "type": "nominal", "scale": {"domain": ["RND-DDT","RND-DT","RND-HT","RND-SH","SW-DDT","SW-DT","SW-HT","SW-SH","SF-DDT","SF-DT","SF-HT","SF-SH"], "range": ["#ee2024","#111111","#111111","#111111","#ee2024","#7f7f7f","#7f7f7f","#7f7f7f","#ee2024","#bfbfbf","#bfbfbf","#bfbfbf"]}, "legend": null}}},
      {"data": {"name": "boxA"}, "mark": {"type": "point", "shape": "M-1,-1L1,1M-1,1L1,-1", "filled": false, "size": 110, "strokeWidth": 1.3, "opacity": 1},
       "encoding": {
         "x": {"field": "key", "type": "nominal", "title": null, "scale": {"type": "point", "domain": ["RND-DDT","RND-m1","RND-DT","RND-m2","RND-HT","RND-m3","RND-SH","g1","s1","g2","SW-DDT","SW-m1","SW-DT","SW-m2","SW-HT","SW-m3","SW-SH","g3","s2","g4","SF-DDT","SF-m1","SF-DT","SF-m2","SF-HT","SF-m3","SF-SH"], "padding": 1.09, "range": [0, 930]}},
         "y": {"field": "mx", "type": "quantitative", "title": "# Links", "scale": {"domain": [16000, 25000], "nice": false, "zero": false}},
         "stroke": {"field": "key", "type": "nominal", "scale": {"domain": ["RND-DDT","RND-DT","RND-HT","RND-SH","SW-DDT","SW-DT","SW-HT","SW-SH","SF-DDT","SF-DT","SF-HT","SF-SH"], "range": ["#ee2024","#111111","#111111","#111111","#ee2024","#7f7f7f","#7f7f7f","#7f7f7f","#ee2024","#bfbfbf","#bfbfbf","#bfbfbf"]}, "legend": null}}},
      {"data": {"values": [{}]}, "mark": {"type": "text", "text": "RND", "fontSize": 24, "fontWeight": "bold", "align": "left", "baseline": "middle", "dx": -18, "color": "#000000"},
       "encoding": {
         "x": {"datum": "RND-DDT", "type": "nominal", "title": null, "scale": {"type": "point", "domain": ["RND-DDT","RND-m1","RND-DT","RND-m2","RND-HT","RND-m3","RND-SH","g1","s1","g2","SW-DDT","SW-m1","SW-DT","SW-m2","SW-HT","SW-m3","SW-SH","g3","s2","g4","SF-DDT","SF-m1","SF-DT","SF-m2","SF-HT","SF-m3","SF-SH"], "padding": 1.09, "range": [0, 930]}},
         "y": {"datum": 16880, "type": "quantitative", "title": "# Links", "scale": {"domain": [16000, 25000], "nice": false, "zero": false}}}},
      {"data": {"values": [{}]}, "mark": {"type": "text", "text": "SW", "fontSize": 24, "fontWeight": "bold", "align": "left", "baseline": "middle", "dx": 15, "color": "#000000"},
       "encoding": {
         "x": {"datum": "s1", "type": "nominal", "title": null, "scale": {"type": "point", "domain": ["RND-DDT","RND-m1","RND-DT","RND-m2","RND-HT","RND-m3","RND-SH","g1","s1","g2","SW-DDT","SW-m1","SW-DT","SW-m2","SW-HT","SW-m3","SW-SH","g3","s2","g4","SF-DDT","SF-m1","SF-DT","SF-m2","SF-HT","SF-m3","SF-SH"], "padding": 1.09, "range": [0, 930]}},
         "y": {"datum": 16880, "type": "quantitative", "title": "# Links", "scale": {"domain": [16000, 25000], "nice": false, "zero": false}}}},
      {"data": {"values": [{}]}, "mark": {"type": "text", "text": "SF", "fontSize": 24, "fontWeight": "bold", "align": "left", "baseline": "middle", "dx": 15, "color": "#000000"},
       "encoding": {
         "x": {"datum": "s2", "type": "nominal", "title": null, "scale": {"type": "point", "domain": ["RND-DDT","RND-m1","RND-DT","RND-m2","RND-HT","RND-m3","RND-SH","g1","s1","g2","SW-DDT","SW-m1","SW-DT","SW-m2","SW-HT","SW-m3","SW-SH","g3","s2","g4","SF-DDT","SF-m1","SF-DT","SF-m2","SF-HT","SF-m3","SF-SH"], "padding": 1.09, "range": [0, 930]}},
         "y": {"datum": 16880, "type": "quantitative", "title": "# Links", "scale": {"domain": [16000, 25000], "nice": false, "zero": false}}}},
      {"data": {"values": [{}]}, "mark": {"type": "text", "text": "Structural : 20.0k", "fontSize": 19, "align": "left", "baseline": "middle", "dx": -14, "color": "#b5121b"},
       "encoding": {
         "x": {"datum": "RND-DDT", "type": "nominal", "title": null, "scale": {"type": "point", "domain": ["RND-DDT","RND-m1","RND-DT","RND-m2","RND-HT","RND-m3","RND-SH","g1","s1","g2","SW-DDT","SW-m1","SW-DT","SW-m2","SW-HT","SW-m3","SW-SH","g3","s2","g4","SF-DDT","SF-m1","SF-DT","SF-m2","SF-HT","SF-m3","SF-SH"], "padding": 1.09, "range": [0, 930]}},
         "y": {"datum": 26540, "type": "quantitative", "title": "# Links", "scale": {"domain": [16000, 25000], "nice": false, "zero": false}}}},
      {"data": {"values": [{}]}, "mark": {"type": "text", "text": "A", "fontSize": 20, "fontWeight": "bold", "align": "left", "baseline": "middle", "dx": -129, "color": "#000000"},
       "encoding": {
         "x": {"datum": "RND-DDT", "type": "nominal", "title": null, "scale": {"type": "point", "domain": ["RND-DDT","RND-m1","RND-DT","RND-m2","RND-HT","RND-m3","RND-SH","g1","s1","g2","SW-DDT","SW-m1","SW-DT","SW-m2","SW-HT","SW-m3","SW-SH","g3","s2","g4","SF-DDT","SF-m1","SF-DT","SF-m2","SF-HT","SF-m3","SF-SH"], "padding": 1.09, "range": [0, 930]}},
         "y": {"datum": 32757, "type": "quantitative", "title": "# Links", "scale": {"domain": [16000, 25000], "nice": false, "zero": false}}}}
    ]
  },
  {"width": 1, "height": 1, "data": {"values": [{}]}, "mark": {"type": "text", "text": ""}},
  {"width": 1, "height": 1, "data": {"values": [{}]}, "mark": {"type": "text", "text": ""}},
  {"width": 1, "height": 1, "data": {"values": [{}]}, "mark": {"type": "text", "text": ""}},
  {"width": 507, "height": 97.5, "data": {"values": [{}]}, "mark": {"type": "text", "text": ""}},
  {"width": 1, "height": 1, "data": {"values": [{}]}, "mark": {"type": "text", "text": ""}},
  {"width": 1, "height": 1, "data": {"values": [{}]}, "mark": {"type": "text", "text": ""}},
  {"width": 1, "height": 1, "data": {"values": [{}]}, "mark": {"type": "text", "text": ""}},
  {
    "width": 507, "height": 208,
    "layer": [
      {"data": {"name": "seps"}, "mark": {"type": "rule", "color": "#9a9a9a", "strokeWidth": 1, "strokeDash": [2, 3]},
       "encoding": {"x": {"field": "key", "type": "nominal", "title": null, "scale": {"type": "point", "domain": ["RND-DDT","RND-m1","RND-DT","RND-m2","RND-HT","RND-m3","RND-SH","g1","s1","g2","SW-DDT","SW-m1","SW-DT","SW-m2","SW-HT","SW-m3","SW-SH","g3","s2","g4","SF-DDT","SF-m1","SF-DT","SF-m2","SF-HT","SF-m3","SF-SH"], "padding": 1.09, "range": [0, 930]},
         "axis": {"values": ["RND-DDT","RND-DT","RND-HT","RND-SH","s1","SW-DDT","SW-DT","SW-HT","SW-SH","s2","SF-DDT","SF-DT","SF-HT","SF-SH"], "labelExpr": "indexof(datum.value, '-') > 0 ? slice(datum.value, indexof(datum.value, '-') + 1) : ''", "labelAngle": 0, "labelFontSize": 19, "tickSize": 6, "labelPadding": 4}}}},
      {"data": {"name": "sigB"}, "mark": {"type": "rule", "color": "#000000", "strokeWidth": 2},
       "encoding": {
         "x": {"field": "from", "type": "nominal", "title": null, "scale": {"type": "point", "domain": ["RND-DDT","RND-m1","RND-DT","RND-m2","RND-HT","RND-m3","RND-SH","g1","s1","g2","SW-DDT","SW-m1","SW-DT","SW-m2","SW-HT","SW-m3","SW-SH","g3","s2","g4","SF-DDT","SF-m1","SF-DT","SF-m2","SF-HT","SF-m3","SF-SH"], "padding": 1.09, "range": [0, 930]}},
         "x2": {"field": "to"},
         "y": {"field": "y", "type": "quantitative", "title": "% Exc/Inh", "scale": {"domain": [74, 86], "nice": false, "zero": false},
           "axis": {"values": [74, 78, 82, 86], "format": "d", "labelFontSize": 22, "tickSize": 6, "labelPadding": 2, "titleFontSize": 24, "titlePadding": 11}}}},
      {"data": {"name": "sigB"}, "mark": {"type": "text", "fontSize": 22, "baseline": "alphabetic", "dy": 3, "color": "#000000"},
       "encoding": {
         "x": {"field": "mid", "type": "nominal", "title": null, "scale": {"type": "point", "domain": ["RND-DDT","RND-m1","RND-DT","RND-m2","RND-HT","RND-m3","RND-SH","g1","s1","g2","SW-DDT","SW-m1","SW-DT","SW-m2","SW-HT","SW-m3","SW-SH","g3","s2","g4","SF-DDT","SF-m1","SF-DT","SF-m2","SF-HT","SF-m3","SF-SH"], "padding": 1.09, "range": [0, 930]}},
         "y": {"field": "y", "type": "quantitative", "title": "% Exc/Inh", "scale": {"domain": [74, 86], "nice": false, "zero": false}},
         "text": {"field": "label"}}},
      {"data": {"name": "boxB"}, "mark": {"type": "rule", "strokeWidth": 2},
       "encoding": {
         "x": {"field": "key", "type": "nominal", "title": null, "scale": {"type": "point", "domain": ["RND-DDT","RND-m1","RND-DT","RND-m2","RND-HT","RND-m3","RND-SH","g1","s1","g2","SW-DDT","SW-m1","SW-DT","SW-m2","SW-HT","SW-m3","SW-SH","g3","s2","g4","SF-DDT","SF-m1","SF-DT","SF-m2","SF-HT","SF-m3","SF-SH"], "padding": 1.09, "range": [0, 930]}},
         "y": {"field": "lo", "type": "quantitative", "title": "% Exc/Inh", "scale": {"domain": [74, 86], "nice": false, "zero": false}},
         "y2": {"field": "hi"},
         "color": {"field": "key", "type": "nominal", "scale": {"domain": ["RND-DDT","RND-DT","RND-HT","RND-SH","SW-DDT","SW-DT","SW-HT","SW-SH","SF-DDT","SF-DT","SF-HT","SF-SH"], "range": ["#ee2024","#111111","#111111","#111111","#ee2024","#7f7f7f","#7f7f7f","#7f7f7f","#ee2024","#bfbfbf","#bfbfbf","#bfbfbf"]}, "legend": null}}},
      {"data": {"name": "boxB"}, "mark": {"type": "tick", "size": 14, "thickness": 2, "opacity": 1},
       "encoding": {
         "x": {"field": "key", "type": "nominal", "title": null, "scale": {"type": "point", "domain": ["RND-DDT","RND-m1","RND-DT","RND-m2","RND-HT","RND-m3","RND-SH","g1","s1","g2","SW-DDT","SW-m1","SW-DT","SW-m2","SW-HT","SW-m3","SW-SH","g3","s2","g4","SF-DDT","SF-m1","SF-DT","SF-m2","SF-HT","SF-m3","SF-SH"], "padding": 1.09, "range": [0, 930]}},
         "y": {"field": "lo", "type": "quantitative", "title": "% Exc/Inh", "scale": {"domain": [74, 86], "nice": false, "zero": false}},
         "color": {"field": "key", "type": "nominal", "scale": {"domain": ["RND-DDT","RND-DT","RND-HT","RND-SH","SW-DDT","SW-DT","SW-HT","SW-SH","SF-DDT","SF-DT","SF-HT","SF-SH"], "range": ["#ee2024","#111111","#111111","#111111","#ee2024","#7f7f7f","#7f7f7f","#7f7f7f","#ee2024","#bfbfbf","#bfbfbf","#bfbfbf"]}, "legend": null}}},
      {"data": {"name": "boxB"}, "mark": {"type": "bar", "size": 54, "fill": "#ffffff", "strokeWidth": 2.5},
       "encoding": {
         "x": {"field": "key", "type": "nominal", "title": null, "scale": {"type": "point", "domain": ["RND-DDT","RND-m1","RND-DT","RND-m2","RND-HT","RND-m3","RND-SH","g1","s1","g2","SW-DDT","SW-m1","SW-DT","SW-m2","SW-HT","SW-m3","SW-SH","g3","s2","g4","SF-DDT","SF-m1","SF-DT","SF-m2","SF-HT","SF-m3","SF-SH"], "padding": 1.09, "range": [0, 930]}},
         "y": {"field": "q1", "type": "quantitative", "title": "% Exc/Inh", "scale": {"domain": [74, 86], "nice": false, "zero": false}},
         "y2": {"field": "q3"},
         "stroke": {"field": "key", "type": "nominal", "scale": {"domain": ["RND-DDT","RND-DT","RND-HT","RND-SH","SW-DDT","SW-DT","SW-HT","SW-SH","SF-DDT","SF-DT","SF-HT","SF-SH"], "range": ["#ee2024","#111111","#111111","#111111","#ee2024","#7f7f7f","#7f7f7f","#7f7f7f","#ee2024","#bfbfbf","#bfbfbf","#bfbfbf"]}, "legend": null}}},
      {"data": {"name": "boxB"}, "mark": {"type": "tick", "size": 54, "thickness": 2, "opacity": 1},
       "encoding": {
         "x": {"field": "key", "type": "nominal", "title": null, "scale": {"type": "point", "domain": ["RND-DDT","RND-m1","RND-DT","RND-m2","RND-HT","RND-m3","RND-SH","g1","s1","g2","SW-DDT","SW-m1","SW-DT","SW-m2","SW-HT","SW-m3","SW-SH","g3","s2","g4","SF-DDT","SF-m1","SF-DT","SF-m2","SF-HT","SF-m3","SF-SH"], "padding": 1.09, "range": [0, 930]}},
         "y": {"field": "med", "type": "quantitative", "title": "% Exc/Inh", "scale": {"domain": [74, 86], "nice": false, "zero": false}},
         "color": {"field": "key", "type": "nominal", "scale": {"domain": ["RND-DDT","RND-DT","RND-HT","RND-SH","SW-DDT","SW-DT","SW-HT","SW-SH","SF-DDT","SF-DT","SF-HT","SF-SH"], "range": ["#ee2024","#111111","#111111","#111111","#ee2024","#7f7f7f","#7f7f7f","#7f7f7f","#ee2024","#bfbfbf","#bfbfbf","#bfbfbf"]}, "legend": null}}},
      {"data": {"name": "boxB"}, "mark": {"type": "point", "shape": "square", "filled": true, "fill": "#ffffff", "size": 45, "strokeWidth": 1.5, "opacity": 1},
       "encoding": {
         "x": {"field": "key", "type": "nominal", "title": null, "scale": {"type": "point", "domain": ["RND-DDT","RND-m1","RND-DT","RND-m2","RND-HT","RND-m3","RND-SH","g1","s1","g2","SW-DDT","SW-m1","SW-DT","SW-m2","SW-HT","SW-m3","SW-SH","g3","s2","g4","SF-DDT","SF-m1","SF-DT","SF-m2","SF-HT","SF-m3","SF-SH"], "padding": 1.09, "range": [0, 930]}},
         "y": {"field": "mean", "type": "quantitative", "title": "% Exc/Inh", "scale": {"domain": [74, 86], "nice": false, "zero": false}},
         "stroke": {"field": "key", "type": "nominal", "scale": {"domain": ["RND-DDT","RND-DT","RND-HT","RND-SH","SW-DDT","SW-DT","SW-HT","SW-SH","SF-DDT","SF-DT","SF-HT","SF-SH"], "range": ["#ee2024","#111111","#111111","#111111","#ee2024","#7f7f7f","#7f7f7f","#7f7f7f","#ee2024","#bfbfbf","#bfbfbf","#bfbfbf"]}, "legend": null}}},
      {"data": {"name": "boxB"}, "mark": {"type": "point", "shape": "M-1,-1L1,1M-1,1L1,-1", "filled": false, "size": 110, "strokeWidth": 1.3, "opacity": 1},
       "encoding": {
         "x": {"field": "key", "type": "nominal", "title": null, "scale": {"type": "point", "domain": ["RND-DDT","RND-m1","RND-DT","RND-m2","RND-HT","RND-m3","RND-SH","g1","s1","g2","SW-DDT","SW-m1","SW-DT","SW-m2","SW-HT","SW-m3","SW-SH","g3","s2","g4","SF-DDT","SF-m1","SF-DT","SF-m2","SF-HT","SF-m3","SF-SH"], "padding": 1.09, "range": [0, 930]}},
         "y": {"field": "mn", "type": "quantitative", "title": "% Exc/Inh", "scale": {"domain": [74, 86], "nice": false, "zero": false}},
         "stroke": {"field": "key", "type": "nominal", "scale": {"domain": ["RND-DDT","RND-DT","RND-HT","RND-SH","SW-DDT","SW-DT","SW-HT","SW-SH","SF-DDT","SF-DT","SF-HT","SF-SH"], "range": ["#ee2024","#111111","#111111","#111111","#ee2024","#7f7f7f","#7f7f7f","#7f7f7f","#ee2024","#bfbfbf","#bfbfbf","#bfbfbf"]}, "legend": null}}},
      {"data": {"name": "boxB"}, "mark": {"type": "point", "shape": "M-1,-1L1,1M-1,1L1,-1", "filled": false, "size": 110, "strokeWidth": 1.3, "opacity": 1},
       "encoding": {
         "x": {"field": "key", "type": "nominal", "title": null, "scale": {"type": "point", "domain": ["RND-DDT","RND-m1","RND-DT","RND-m2","RND-HT","RND-m3","RND-SH","g1","s1","g2","SW-DDT","SW-m1","SW-DT","SW-m2","SW-HT","SW-m3","SW-SH","g3","s2","g4","SF-DDT","SF-m1","SF-DT","SF-m2","SF-HT","SF-m3","SF-SH"], "padding": 1.09, "range": [0, 930]}},
         "y": {"field": "mx", "type": "quantitative", "title": "% Exc/Inh", "scale": {"domain": [74, 86], "nice": false, "zero": false}},
         "stroke": {"field": "key", "type": "nominal", "scale": {"domain": ["RND-DDT","RND-DT","RND-HT","RND-SH","SW-DDT","SW-DT","SW-HT","SW-SH","SF-DDT","SF-DT","SF-HT","SF-SH"], "range": ["#ee2024","#111111","#111111","#111111","#ee2024","#7f7f7f","#7f7f7f","#7f7f7f","#ee2024","#bfbfbf","#bfbfbf","#bfbfbf"]}, "legend": null}}},
      {"data": {"values": [{}]}, "mark": {"type": "text", "text": "RND", "fontSize": 24, "fontWeight": "bold", "align": "left", "baseline": "middle", "dx": -18, "color": "#000000"},
       "encoding": {
         "x": {"datum": "RND-DDT", "type": "nominal", "title": null, "scale": {"type": "point", "domain": ["RND-DDT","RND-m1","RND-DT","RND-m2","RND-HT","RND-m3","RND-SH","g1","s1","g2","SW-DDT","SW-m1","SW-DT","SW-m2","SW-HT","SW-m3","SW-SH","g3","s2","g4","SF-DDT","SF-m1","SF-DT","SF-m2","SF-HT","SF-m3","SF-SH"], "padding": 1.09, "range": [0, 930]}},
         "y": {"datum": 75.16, "type": "quantitative", "title": "% Exc/Inh", "scale": {"domain": [74, 86], "nice": false, "zero": false}}}},
      {"data": {"values": [{}]}, "mark": {"type": "text", "text": "SW", "fontSize": 24, "fontWeight": "bold", "align": "left", "baseline": "middle", "dx": 15, "color": "#000000"},
       "encoding": {
         "x": {"datum": "s1", "type": "nominal", "title": null, "scale": {"type": "point", "domain": ["RND-DDT","RND-m1","RND-DT","RND-m2","RND-HT","RND-m3","RND-SH","g1","s1","g2","SW-DDT","SW-m1","SW-DT","SW-m2","SW-HT","SW-m3","SW-SH","g3","s2","g4","SF-DDT","SF-m1","SF-DT","SF-m2","SF-HT","SF-m3","SF-SH"], "padding": 1.09, "range": [0, 930]}},
         "y": {"datum": 75.16, "type": "quantitative", "title": "% Exc/Inh", "scale": {"domain": [74, 86], "nice": false, "zero": false}}}},
      {"data": {"values": [{}]}, "mark": {"type": "text", "text": "SF", "fontSize": 24, "fontWeight": "bold", "align": "left", "baseline": "middle", "dx": 15, "color": "#000000"},
       "encoding": {
         "x": {"datum": "s2", "type": "nominal", "title": null, "scale": {"type": "point", "domain": ["RND-DDT","RND-m1","RND-DT","RND-m2","RND-HT","RND-m3","RND-SH","g1","s1","g2","SW-DDT","SW-m1","SW-DT","SW-m2","SW-HT","SW-m3","SW-SH","g3","s2","g4","SF-DDT","SF-m1","SF-DT","SF-m2","SF-HT","SF-m3","SF-SH"], "padding": 1.09, "range": [0, 930]}},
         "y": {"datum": 75.16, "type": "quantitative", "title": "% Exc/Inh", "scale": {"domain": [74, 86], "nice": false, "zero": false}}}},
      {"data": {"values": [{}]}, "mark": {"type": "text", "text": "Structural : 80%", "fontSize": 19, "align": "left", "baseline": "middle", "dx": -14, "color": "#b5121b"},
       "encoding": {
         "x": {"datum": "RND-DDT", "type": "nominal", "title": null, "scale": {"type": "point", "domain": ["RND-DDT","RND-m1","RND-DT","RND-m2","RND-HT","RND-m3","RND-SH","g1","s1","g2","SW-DDT","SW-m1","SW-DT","SW-m2","SW-HT","SW-m3","SW-SH","g3","s2","g4","SF-DDT","SF-m1","SF-DT","SF-m2","SF-HT","SF-m3","SF-SH"], "padding": 1.09, "range": [0, 930]}},
         "y": {"datum": 88.1, "type": "quantitative", "title": "% Exc/Inh", "scale": {"domain": [74, 86], "nice": false, "zero": false}}}},
      {"data": {"values": [{}]}, "mark": {"type": "text", "text": "B", "fontSize": 20, "fontWeight": "bold", "align": "left", "baseline": "middle", "dx": -129, "color": "#000000"},
       "encoding": {
         "x": {"datum": "RND-DDT", "type": "nominal", "title": null, "scale": {"type": "point", "domain": ["RND-DDT","RND-m1","RND-DT","RND-m2","RND-HT","RND-m3","RND-SH","g1","s1","g2","SW-DDT","SW-m1","SW-DT","SW-m2","SW-HT","SW-m3","SW-SH","g3","s2","g4","SF-DDT","SF-m1","SF-DT","SF-m2","SF-HT","SF-m3","SF-SH"], "padding": 1.09, "range": [0, 930]}},
         "y": {"datum": 88.0, "type": "quantitative", "title": "% Exc/Inh", "scale": {"domain": [74, 86], "nice": false, "zero": false}}}}
    ]
  },
  {"width": 1, "height": 1, "data": {"values": [{}]}, "mark": {"type": "text", "text": ""}},
  {"width": 1, "height": 1, "data": {"values": [{}]}, "mark": {"type": "text", "text": ""}},
  {"width": 1, "height": 1, "data": {"values": [{}]}, "mark": {"type": "text", "text": ""}},
  {"width": 507, "height": 59, "data": {"values": [{}]}, "mark": {"type": "text", "text": ""}},
  {"width": 1, "height": 1, "data": {"values": [{}]}, "mark": {"type": "text", "text": ""}},
  {"width": 1, "height": 1, "data": {"values": [{}]}, "mark": {"type": "text", "text": ""}},
  {"width": 1, "height": 1, "data": {"values": [{}]}, "mark": {"type": "text", "text": ""}},
  {
    "width": 507, "height": 38,
    "data": {"name": "caption"},
    "encoding": {
      "x": {"datum": 0, "type": "quantitative", "scale": {"domain": [0, 1]}, "axis": null},
      "y": {"field": "line", "type": "ordinal", "scale": {"type": "point", "domain": [1, 2, 3], "padding": 0}, "axis": null},
      "text": {"field": "text"}
    },
    "layer": [
      {"transform": [{"filter": "datum.id == 'L1S1'"}], "mark": {"type": "text", "align": "left", "baseline": "middle", "fontSize": 16, "color": "#333333", "fontWeight": "bold", "dx": -95}},
      {"transform": [{"filter": "datum.id == 'L1S2'"}], "mark": {"type": "text", "align": "left", "baseline": "middle", "fontSize": 16, "color": "#333333", "dx": -7.8}},
      {"transform": [{"filter": "datum.id == 'L1S3'"}], "mark": {"type": "text", "align": "left", "baseline": "middle", "fontSize": 16, "color": "#333333", "fontWeight": "bold", "dx": 498.2}},
      {"transform": [{"filter": "datum.id == 'L1S4'"}], "mark": {"type": "text", "align": "left", "baseline": "middle", "fontSize": 16, "color": "#333333", "dx": 524.9}},
      {"transform": [{"filter": "datum.id == 'L1S5'"}], "mark": {"type": "text", "align": "left", "baseline": "middle", "fontSize": 16, "color": "#333333", "fontWeight": "bold", "dx": 744.5}},
      {"transform": [{"filter": "datum.id == 'L1S6'"}], "mark": {"type": "text", "align": "left", "baseline": "middle", "fontSize": 16, "color": "#333333", "dx": 771.2}},
      {"transform": [{"filter": "datum.id == 'L2S1'"}], "mark": {"type": "text", "align": "left", "baseline": "middle", "fontSize": 16, "color": "#333333", "dx": -95}},
      {"transform": [{"filter": "datum.id == 'L2S2'"}], "mark": {"type": "text", "align": "left", "baseline": "middle", "fontSize": 16, "color": "#333333", "fontWeight": "bold", "dx": 576.3}},
      {"transform": [{"filter": "datum.id == 'L2S3'"}], "mark": {"type": "text", "align": "left", "baseline": "middle", "fontSize": 16, "color": "#333333", "dx": 603.0}},
      {"transform": [{"filter": "datum.id == 'L3S1'"}], "mark": {"type": "text", "align": "left", "baseline": "middle", "fontSize": 16, "color": "#333333", "dx": -95}}
    ]
  }
]
}
